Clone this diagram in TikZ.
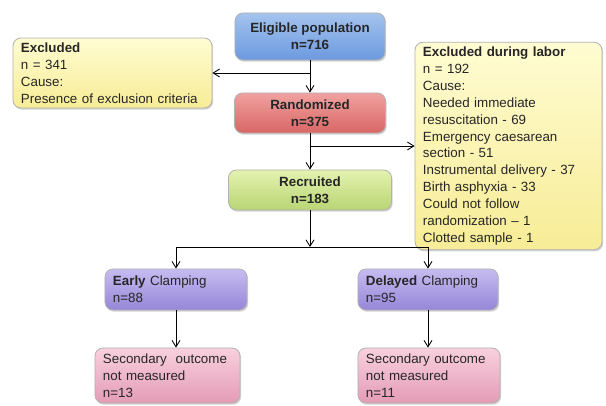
\documentclass[tikz,border=0pt]{standalone}
\usepackage{fontspec}
\setmainfont{Liberation Sans}
\usetikzlibrary{shadows,arrows.meta}
\definecolor{blueT}{HTML}{A4C3EE}
\definecolor{blueB}{HTML}{6C9ADF}
\definecolor{redT}{HTML}{F0A2A0}
\definecolor{redB}{HTML}{D86664}
\definecolor{greenT}{HTML}{E4F2B0}
\definecolor{greenB}{HTML}{B8D574}
\definecolor{yellowT}{HTML}{FFFCD2}
\definecolor{yellowB}{HTML}{F7EC96}
\definecolor{purpleT}{HTML}{C6BCF0}
\definecolor{purpleB}{HTML}{9686D8}
\definecolor{pinkT}{HTML}{F8D0DE}
\definecolor{pinkB}{HTML}{E49CB6}
\tikzset{
  flowbox/.style={draw=black!30,rounded corners=0.2cm,
    drop shadow={opacity=0.35,shadow xshift=0.8pt,shadow yshift=-1.2pt},
    font=\fontsize{9.5}{12}\selectfont,text=black!85},
  midbox/.style={flowbox,align=center,font=\fontsize{9.5}{12}\selectfont\bfseries},
  notebox/.style={flowbox,align=left,inner xsep=0.2cm},
}
\begin{document}
\begin{tikzpicture}[x=0.025cm,y=-0.025cm,>={Straight Barb[length=1.6mm,width=2mm]},line width=0.6pt]
\useasboundingbox (0,0) rectangle (606,406);
% main column
\node[midbox,top color=blueT,bottom color=blueB,minimum width=3.75cm,minimum height=1.175cm] (elig) at (310,36.5) {Eligible population\\n=716};
\node[midbox,top color=redT,bottom color=redB,minimum width=3.775cm,minimum height=1cm] (rand) at (310,113) {Randomized\\n=375};
\node[midbox,top color=greenT,bottom color=greenB,minimum width=4.075cm,minimum height=1cm] (recr) at (310,190) {Recruited\\n=183};
% exclusions
\node[notebox,top color=yellowT,bottom color=yellowB,text width=4.575cm,minimum height=1.75cm] (excl) at (112.5,73) {\textbf{Excluded}\\n = 341\\Cause:\\Presence of exclusion criteria};
\node[notebox,top color=yellowT,bottom color=yellowB,text width=4.275cm,minimum height=4.925cm] (labor) at (508.5,146) {\textbf{Excluded during labor}\\n = 192\\Cause:\\Needed immediate\\resuscitation - 69\\Emergency caesarean\\section - 51\\Instrumental delivery - 37\\Birth asphyxia - 33\\Could not follow\\randomization -- 1\\Clotted sample - 1};
% arms
\node[notebox,top color=purpleT,bottom color=purpleB,text width=3.15cm,minimum height=1.025cm] (early) at (176,289.5) {\textbf{Early} Clamping\\n=88};
\node[notebox,top color=purpleT,bottom color=purpleB,text width=3.1cm,minimum height=1.025cm] (delay) at (428,289.5) {\textbf{Delayed} Clamping\\n=95};
\node[notebox,top color=pinkT,bottom color=pinkB,text width=3.225cm,minimum height=1.375cm] (secA) at (167.5,375.5) {Secondary\ \ outcome\\not measured\\n=13};
\node[notebox,top color=pinkT,bottom color=pinkB,text width=3.15cm,minimum height=1.375cm] (secB) at (429,375.5) {Secondary outcome\\not measured\\n=11};
\coordinate (split) at (310,247);
% connectors
\draw[->] (elig) -- (rand);
\draw[->] (elig.south |- excl.east) -- (excl.east);
\draw[->] (rand) -- (recr);
\draw[->] (rand.south |- labor.west) -- (labor.west);
\draw[->] (recr) -- (split);
\draw (split -| early) -- (split -| delay);
\draw[->] (split -| early) -- (early);
\draw[->] (split -| delay) -- (delay);
\draw[->] (early) -- (early |- secA.north);
\draw[->] (delay) -- (delay |- secB.north);
\end{tikzpicture}
\end{document}
